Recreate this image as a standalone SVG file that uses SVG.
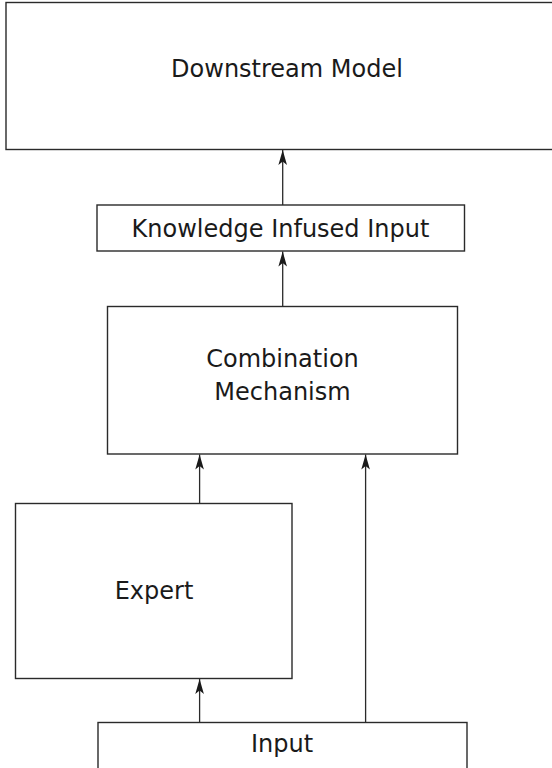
<svg xmlns="http://www.w3.org/2000/svg" width="552" height="768" viewBox="0 0 552 768">
  <style>
    .box { fill: #ffffff; stroke: #2a2a2a; stroke-width: 1.4; }
    .label { font-family: "DejaVu Sans", Verdana, sans-serif; font-size: 24px; fill: #1a1a1a; text-anchor: middle; }
    .edge { stroke: #2a2a2a; stroke-width: 1.3; fill: none; marker-end: url(#arrow); }
  </style>
  <defs>
    <marker id="arrow" markerUnits="userSpaceOnUse" markerWidth="20" markerHeight="12" viewBox="-16 -6 17 12" refX="0" refY="0" orient="auto">
      <path d="M0,0 L-15,-4.3 L-11.5,0 L-15,4.3 Z" fill="#1a1a1a"/>
    </marker>
  </defs>
  <rect width="552" height="768" fill="#ffffff"/>

  <g id="downstream-model">
    <rect class="box" x="6" y="2.5" width="562" height="147"/>
    <text class="label" x="287" y="77">Downstream Model</text>
  </g>

  <g id="knowledge-infused-input">
    <rect class="box" x="97" y="205" width="367.5" height="46"/>
    <text class="label" x="280.5" y="237">Knowledge Infused Input</text>
  </g>

  <g id="combination-mechanism">
    <rect class="box" x="107.5" y="306.5" width="350" height="147.5"/>
    <text class="label" x="282.5" y="367">Combination</text>
    <text class="label" x="282.5" y="400">Mechanism</text>
  </g>

  <g id="expert">
    <rect class="box" x="15.5" y="503.5" width="276.5" height="175"/>
    <text class="label" x="154" y="599">Expert</text>
  </g>

  <g id="input">
    <rect class="box" x="98" y="722.5" width="369" height="80"/>
    <text class="label" x="282" y="752">Input</text>
  </g>

  <g id="connectors">
    <path class="edge" d="M282.7,205 V150"/>
    <path class="edge" d="M282.7,306.5 V251.5"/>
    <path class="edge" d="M199.6,503.5 V454.5"/>
    <path class="edge" d="M199.6,722.5 V679"/>
    <path class="edge" d="M365.6,722.5 V454.5"/>
  </g>
</svg>
